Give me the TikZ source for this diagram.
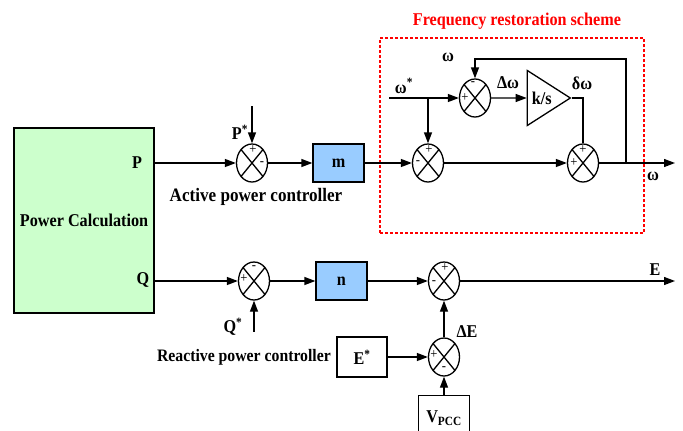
\documentclass[tikz,border=0pt]{standalone}
\usepackage{fontspec}
\setmainfont[FakeStretch=0.9]{Liberation Serif}
\usetikzlibrary{arrows.meta,positioning,calc,shapes.geometric}
\definecolor{pcgreen}{HTML}{CCFFCC}
\definecolor{gainblue}{HTML}{99CCFF}

\begin{document}
\begin{tikzpicture}[
  x=1pt, y=-1pt,
  every node/.style={font=\bfseries\fontsize{18}{20}\selectfont},
  sumnode/.style={ellipse, draw, line width=1.3pt, minimum width=31pt, minimum height=38pt, inner sep=0pt,
    path picture={\draw[line width=1.3pt] (path picture bounding box.north west) -- (path picture bounding box.south east)
      (path picture bounding box.south west) -- (path picture bounding box.north east);}},
  gainbox/.style={rectangle, draw, line width=1.3pt, fill=gainblue, minimum width=51pt, minimum height=38pt},
  refbox/.style={rectangle, draw, line width=1.3pt, fill=white, minimum width=50pt, minimum height=40pt},
  sgn/.style={font=\fontsize{14}{14}\selectfont, inner sep=0pt},
  arr/.style={-{Triangle[length=11pt,width=8pt]}, line width=1.3pt},
  wire/.style={line width=1.3pt}
]
\useasboundingbox (0,0) rectangle (683,431);

% Power calculation block
\node[draw, line width=1.3pt, fill=pcgreen, minimum width=140pt, minimum height=185pt] (pc) at (84,220.5) {Power Calculation};
\node (plbl) at (137,163) {P};
\node (qlbl) at (143,280) {Q};

% Summing junctions
\node[sumnode] (sp) at (252,163) {};
\node[sumnode] (sq) at (254,281) {};
\node[sumnode] (s2) at (428,163) {};
\node[sumnode] (s3) at (475,98) {};
\node[sumnode] (s4) at (583,163) {};
\node[sumnode] (se) at (444,281) {};
\node[sumnode] (sde) at (444,357) {};

% Signs
\node[sgn] at ($(sp)+(1,-13)$) {+};
\node[sgn] at ($(sp)+(10,1)$) {-};
\node[sgn] at ($(sq)+(-10,-2)$) {+};
\node[sgn] at ($(sq)+(0,-13)$) {-};
\node[sgn] at ($(s2)+(1,-13)$) {+};
\node[sgn] at ($(s2)+(-10,0)$) {-};
\node[sgn] at ($(s3)+(-2,-14)$) {-};
\node[sgn] at ($(s3)+(-10,0)$) {+};
\node[sgn] at ($(s4)+(0,-13)$) {+};
\node[sgn] at ($(s4)+(-9,0)$) {+};
\node[sgn] at ($(se)+(1,-13)$) {+};
\node[sgn] at ($(se)+(-10,2)$) {-};
\node[sgn] at ($(sde)+(-10,-2)$) {+};
\node[sgn] at ($(sde)+(0,12)$) {-};

% Gains and references
\node[gainbox] (m) at (338.5,163) {m};
\node[gainbox] (n) at (341.5,281) {n};
\node[refbox] (estar) at (362,357) {E\textsuperscript{*}};
\node[refbox, anchor=north, minimum width=51pt, minimum height=45pt] (vpcc) at (444,395) {V\textsubscript{PCC}};
\node[draw, line width=1.3pt, isosceles triangle, isosceles triangle stretches, minimum width=55pt, minimum height=43pt,
      inner sep=0pt, anchor=apex] (ks) at (572,98) {k/s};

% Frequency restoration frame
\node[draw=red, line width=1.1pt, dash pattern=on 3pt off 2pt, minimum width=264pt, minimum height=195pt] (frs) at (512,135.5) {};
\node[text=red] (frstitle) at (517,21) {Frequency restoration scheme};

% Active power path
\draw[arr] (pc.east |- sp.west) -- (sp.west);
\coordinate (pin) at ($(sp.north)+(0,-37)$);
\draw[arr] (pin) -- (sp.north);
\node (pstar) at (240,132) {P\textsuperscript{*}};
\draw[arr] (sp.east) -- (m.west);
\draw[arr] (m.east) -- (s2.west);
\node[font=\bfseries\fontsize{19}{21}\selectfont] (apc) at (256,197) {Active power controller};

% Restoration loop
\coordinate (wsin) at (389,98);
\draw[arr] (wsin) -- (s3.west);
\draw[arr] (s2.north |- wsin) -- (s2.north);
\node (wstar) at (404,86) {ω\textsuperscript{*}};
\draw[arr] (s3.east) -- (ks.west);
\node (dw) at (508,83) {Δω};
\draw[wire] (ks.apex) -| (s4.north);
\node (delw) at (582,83) {δω};
\draw[arr] (s2.east) -- (s4.west);
\coordinate (wout) at (675,163);
\draw[arr] (s4.east) -- (wout);
\node (wlbl) at (653,176) {ω};
\coordinate (fb) at (626,163);
\draw[arr] (fb) -- ++(0,-104) -| (s3.north);
\node (wfb) at (448,57) {ω};

% Reactive power path
\draw[arr] (pc.east |- sq.west) -- (sq.west);
\coordinate (qin) at ($(sq.south)+(0,31)$);
\draw[arr] (qin) -- (sq.south);
\node (qstar) at (233,327) {Q\textsuperscript{*}};
\draw[arr] (sq.east) -- (n.west);
\draw[arr] (n.east) -- (se.west);
\coordinate (eout) at (675,281);
\draw[arr] (se.east) -- (eout);
\node (elbl) at (655,270) {E};
\draw[arr] (sde.north) -- (se.south);
\node (de) at (467,332) {ΔE};
\draw[arr] (estar.east) -- (sde.west);
\draw[arr] (vpcc.north) -- (sde.south);
\node[left=2pt of estar, font=\bfseries\fontsize{17.5}{19}\selectfont] (rpc) {Reactive power controller};

\end{tikzpicture}
\end{document}
